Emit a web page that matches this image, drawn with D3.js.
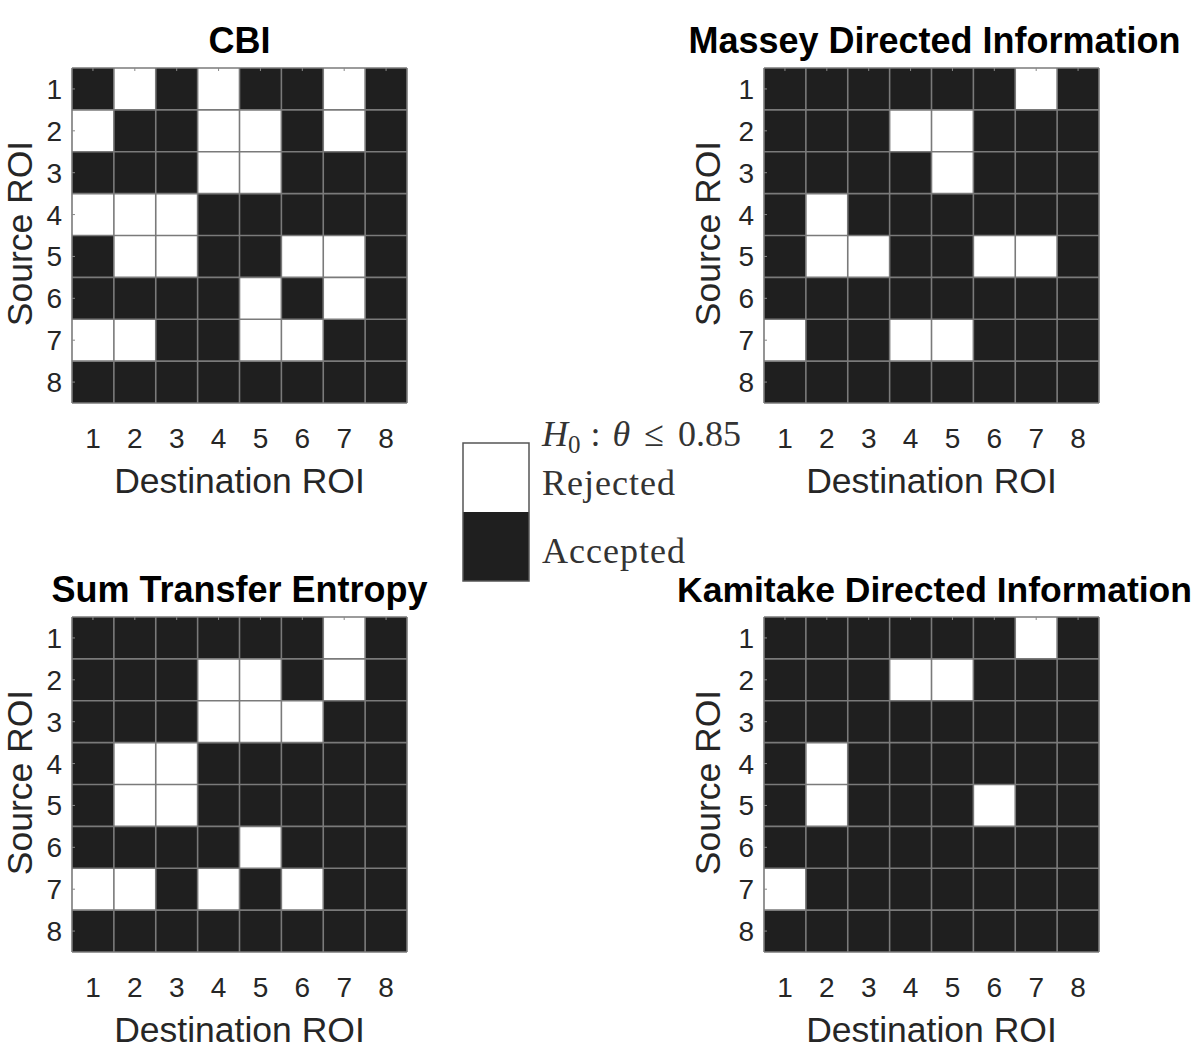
<!DOCTYPE html>
<html><head><meta charset="utf-8">
<script src="https://cdn.jsdelivr.net/npm/d3@7"></script>
<style>body{margin:0;background:#fff}svg{display:block}</style>
</head><body><svg id="c" width="1196" height="1053"></svg>
<script>
const sourceROI = ["1","2","3","4","5","6","7","8"];
const destinationROI = ["1","2","3","4","5","6","7","8"];
const panelTitles = ["CBI","Massey Directed Information","Sum Transfer Entropy","Kamitake Directed Information"];
// 1 = H0 rejected (white), 0 = accepted (black); rows = source, cols = destination
const cbi = [
  [0,1,0,1,0,0,1,0],
  [1,0,0,1,1,0,1,0],
  [0,0,0,1,1,0,0,0],
  [1,1,1,0,0,0,0,0],
  [0,1,1,0,0,1,1,0],
  [0,0,0,0,1,0,1,0],
  [1,1,0,0,1,1,0,0],
  [0,0,0,0,0,0,0,0]
];
const massey = [
  [0,0,0,0,0,0,1,0],
  [0,0,0,1,1,0,0,0],
  [0,0,0,0,1,0,0,0],
  [0,1,0,0,0,0,0,0],
  [0,1,1,0,0,1,1,0],
  [0,0,0,0,0,0,0,0],
  [1,0,0,1,1,0,0,0],
  [0,0,0,0,0,0,0,0]
];
const sumTE = [
  [0,0,0,0,0,0,1,0],
  [0,0,0,1,1,0,1,0],
  [0,0,0,1,1,1,0,0],
  [0,1,1,0,0,0,0,0],
  [0,1,1,0,0,0,0,0],
  [0,0,0,0,1,0,0,0],
  [1,1,0,1,0,1,0,0],
  [0,0,0,0,0,0,0,0]
];
const kamitake = [
  [0,0,0,0,0,0,1,0],
  [0,0,0,1,1,0,0,0],
  [0,0,0,0,0,0,0,0],
  [0,1,0,0,0,0,0,0],
  [0,1,0,0,0,1,0,0],
  [0,0,0,0,0,0,0,0],
  [1,0,0,0,0,0,0,0],
  [0,0,0,0,0,0,0,0]
];
const legendValues = [1,0];
const legendLabels = ["Rejected","Accepted"];

const svg = d3.select("#c");
const size = 335;
const color = d3.scaleOrdinal().domain([0,1]).range(["#1f1f1f","#ffffff"]);
const sansFont = "'Liberation Sans', Arial, sans-serif";
const serifFont = "'Liberation Serif', 'Times New Roman', serif";
const textGray = "#262626";

const matrices = [cbi, massey, sumTE, kamitake];
const origins = [[72,68],[764,68],[72,617],[764,617]];
const ylabelOffsets = [-40, -44, -40, -44];
const titleSizes = [36, 36, 36, 35.5];

matrices.forEach((m, i) => {
  const [ox, oy] = origins[i];
  const g = svg.append("g").attr("transform", `translate(${ox},${oy})`);
  const x = d3.scaleBand().domain(destinationROI).range([0,size]);
  const y = d3.scaleBand().domain(sourceROI).range([0,size]);
  const cells = [];
  m.forEach((row, r) => row.forEach((v, c) => cells.push({r: sourceROI[r], c: destinationROI[c], v})));
  g.selectAll("rect.cell").data(cells).join("rect")
    .attr("class","cell")
    .attr("x", d => x(d.c)).attr("y", d => y(d.r))
    .attr("width", x.bandwidth()).attr("height", y.bandwidth())
    .attr("fill", d => color(d.v));
  const bounds = d3.range(0, 9).map(k => k * x.bandwidth());
  g.selectAll("line.v").data(bounds).join("line")
    .attr("x1", d => d).attr("x2", d => d).attr("y1", 0).attr("y2", size)
    .attr("stroke", "#7a7a7a").attr("stroke-width", 1.6);
  g.selectAll("line.h").data(bounds).join("line")
    .attr("y1", d => d).attr("y2", d => d).attr("x1", 0).attr("x2", size)
    .attr("stroke", "#7a7a7a").attr("stroke-width", 1.6);
  g.selectAll("line.tt").data(destinationROI).join("line")
    .attr("x1", d => x(d) + x.bandwidth()/2).attr("x2", d => x(d) + x.bandwidth()/2)
    .attr("y1", 0).attr("y2", 3).attr("stroke", "#888").attr("stroke-width", 1);
  g.selectAll("line.tl").data(sourceROI).join("line")
    .attr("y1", d => y(d) + y.bandwidth()/2).attr("y2", d => y(d) + y.bandwidth()/2)
    .attr("x1", 0).attr("x2", 3).attr("stroke", "#888").attr("stroke-width", 1);
  g.selectAll("text.xt").data(destinationROI).join("text")
    .attr("x", d => x(d) + x.bandwidth()/2).attr("y", size + 45)
    .attr("text-anchor","middle").attr("font-family", sansFont).attr("font-size", 28)
    .attr("fill", textGray).text(d => d);
  g.selectAll("text.yt").data(sourceROI).join("text")
    .attr("x", -10).attr("y", d => y(d) + y.bandwidth()/2 + 10)
    .attr("text-anchor","end").attr("font-family", sansFont).attr("font-size", 28)
    .attr("fill", textGray).text(d => d);
  g.append("text").attr("x", size/2).attr("y", size + 90)
    .attr("text-anchor","middle").attr("font-family", sansFont).attr("font-size", 35.5)
    .attr("fill", textGray).text("Destination ROI");
  g.append("text").attr("transform", `translate(${ylabelOffsets[i]},${size/2 - 2}) rotate(-90)`)
    .attr("text-anchor","middle").attr("font-family", sansFont).attr("font-size", 35.5)
    .attr("fill", textGray).text("Source ROI");
  g.append("text").attr("x", size/2 + (i % 2 ? 3 : 0)).attr("y", -15)
    .attr("text-anchor","middle").attr("font-family", sansFont).attr("font-size", titleSizes[i])
    .attr("font-weight","bold").attr("fill", "#000").text(panelTitles[i]);
});

// legend (colorbar)
const lg = svg.append("g").attr("transform","translate(463,443)");
const ly = d3.scaleBand().domain(legendValues).range([0,138]);
lg.selectAll("rect").data(legendValues).join("rect")
  .attr("x", 0).attr("y", d => ly(d)).attr("width", 66).attr("height", ly.bandwidth())
  .attr("fill", d => color(d));
lg.append("rect").attr("x",0).attr("y",0).attr("width",66).attr("height",138)
  .attr("fill","none").attr("stroke","#555").attr("stroke-width",1.5);
const lt = svg.append("text").attr("x", 542).attr("y", 446)
  .attr("font-family", serifFont).attr("font-size", 36).attr("fill", "#333");
lt.append("tspan").attr("font-style","italic").text("H");
lt.append("tspan").attr("font-size", 25).attr("dy", 7).text("0");
lt.append("tspan").attr("dy", -7).attr("dx", 10).text(":");
lt.append("tspan").attr("font-style","italic").attr("dx", 12).text("θ");
lt.append("tspan").attr("dx", 14).text("≤");
lt.append("tspan").attr("dx", 14).text("0.85");
svg.selectAll("text.ll").data(legendLabels).join("text")
  .attr("x", 542).attr("y", (d,i) => 443 + ly(legendValues[i]) + 52 - i)
  .attr("font-family", serifFont).attr("font-size", 36).attr("letter-spacing", 1)
  .attr("fill", "#333").text(d => d);
</script></body></html>
